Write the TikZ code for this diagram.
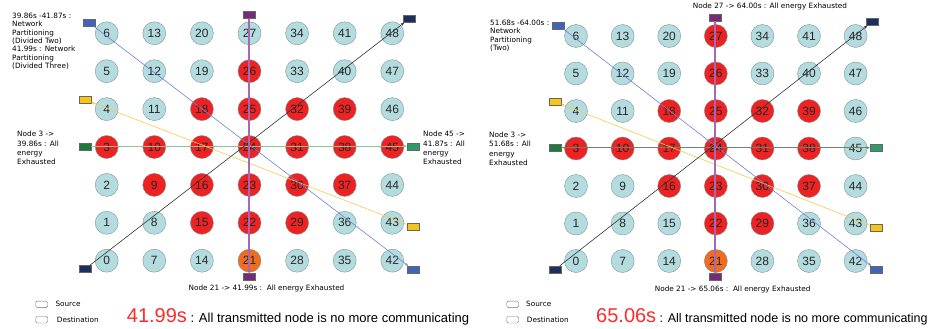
\documentclass[tikz,border=0pt]{standalone}
\usepackage{fontspec}
\setmainfont{Liberation Sans}
\newfontfamily\notefont{DejaVu Sans}
\usetikzlibrary{arrows.meta}

\definecolor{nodeblue}{HTML}{B4DCDF}
\definecolor{deadred}{HTML}{EE2222}
\definecolor{loworange}{HTML}{F06C1E}
\definecolor{ringgray}{HTML}{7C9496}
\definecolor{linblue}{HTML}{7080D8}
\definecolor{boxblue}{HTML}{4064BC}
\definecolor{boxnavy}{HTML}{1C2F5C}
\definecolor{linyellow}{HTML}{F5CB4A}
\definecolor{boxyellow}{HTML}{F5C518}
\definecolor{lingreen}{HTML}{90C490}
\definecolor{boxgreen}{HTML}{1E7A3C}
\definecolor{boxteal}{HTML}{2E9A68}
\definecolor{linpurple}{HTML}{A868B0}
\definecolor{boxpurple}{HTML}{772A7A}
\definecolor{timered}{HTML}{FF2A2A}

\begin{document}
\begin{tikzpicture}[x=1pt, y=-1pt,
    sensor/.style={draw=ringgray, circle, fill=nodeblue, minimum size=23pt, inner sep=0pt, text=black!85, font=\fontsize{12}{12}\selectfont},
    dead/.style={sensor, fill=deadred},
    low/.style={sensor, fill=loworange},
    port/.style={draw=black!60, minimum width=12pt, minimum height=7pt, inner sep=0pt},
    flow/.style={-{Stealth[length=3.5pt, width=3pt]}, line width=0.6pt},
    note/.style={font=\notefont\fontsize{7.3}{8.3}\selectfont, align=left, anchor=north west, inner sep=0pt},
    legend/.style={draw=black!55, rounded corners=1.5pt, minimum width=12pt, minimum height=6.5pt, inner sep=0pt},
    summary/.style={anchor=west, inner sep=0pt, font=\fontsize{13}{13}\selectfont}
]
\useasboundingbox (0,0) rectangle (931,329);

% left panel: 41.99s
\foreach \n in {0,1,2,4,5,6,7,8,11,12,13,14,19,20,27,28,33,34,35,36,40,41,42,43,44,46,47,48}
    \node[sensor] (l\n) at ({106.7+47.6*int(\n/7)},{260.7-37.9*mod(\n,7)}) {\n};
\foreach \n in {3,9,10,15,16,17,18,22,23,24,25,26,29,30,31,32,37,38,39,45}
    \node[dead] (l\n) at ({106.7+47.6*int(\n/7)},{260.7-37.9*mod(\n,7)}) {\n};
\node[low] (l21) at (249.5,260.7) {21};

\node[port, fill=boxblue] (lblueA) at (88.7,22.5) {};
\node[port, fill=boxblue] (lblueB) at (413,269.5) {};
\node[port, fill=boxpurple] (lpurpA) at (249,15) {};
\node[port, fill=boxpurple] (lpurpB) at (249,277) {};
\node[port, fill=boxnavy] (lnavyA) at (85,269) {};
\node[port, fill=boxnavy] (lnavyB) at (409,19) {};
\node[port, fill=boxyellow] (lyelA) at (413,226.7) {};
\node[port, fill=boxyellow] (lyelB) at (85,99.7) {};
\node[port, fill=boxgreen] (lgreenA) at (85,146.3) {};
\node[port, fill=boxteal] (lgreenB) at (413.3,146.3) {};

\draw[flow, lingreen, line width=1.1pt] (lgreenA) -- (lgreenB);
\draw[flow, linyellow] (lyelA) -- (lyelB);
\draw[flow, linblue] (lblueA) -- (lblueB);
\draw[flow, black!80] (lnavyA) -- (lnavyB);
\draw[flow, linpurple, line width=1.1pt] (lpurpA) -- (lpurpB);

\node[note] (lpart) at (12,13) {39.86s -41.87s :\\Network\\Partitioning\\(Divided Two)\\41.99s : Network\\Partitioning\\(Divided Three)};
\node[note, font=\notefont\fontsize{7.3}{9.4}\selectfont] (l3note) at (17,131) {Node 3 ->\\39.86s : All\\energy\\Exhausted};
\node[note, font=\notefont\fontsize{7.3}{9.4}\selectfont] (l45note) at (423,131) {Node 45 ->\\41.87s : All\\energy\\Exhausted};
\node[note, anchor=center] (l21note) at (266.5,288.5) {Node 21 -> 41.99s :\ \ All energy Exhausted};

\node[legend] (lsrc) at (41.7,304.3) {};
\node[legend] (ldst) at (41.7,319.7) {};
\node[note, anchor=west] at (55.3,304.3) {Source};
\node[note, anchor=west] at (56.7,319.7) {Destination};
\node[summary] (lsum) at (126.7,316.5) {{\color{timered}\fontsize{20}{20}\selectfont 41.99s} : All transmitted node is no more communicating};

% right panel: 65.06s
\foreach \n in {0,1,2,4,5,6,7,8,9,11,12,13,14,15,19,20,28,33,34,35,36,40,41,42,43,44,45,46,47,48}
    \node[sensor] (r\n) at ({576+46.6*int(\n/7)},{261-37.5*mod(\n,7)}) {\n};
\foreach \n in {3,10,16,17,18,22,23,24,25,26,27,29,30,31,32,37,38,39}
    \node[dead] (r\n) at ({576+46.6*int(\n/7)},{261-37.5*mod(\n,7)}) {\n};
\node[low] (r21) at (715.8,261) {21};

\node[port, fill=boxblue] (rblueA) at (558.5,25.3) {};
\node[port, fill=boxblue] (rblueB) at (876,269.5) {};
\node[port, fill=boxpurple] (rpurpA) at (715,17.5) {};
\node[port, fill=boxpurple] (rpurpB) at (715,277) {};
\node[port, fill=boxnavy] (rnavyA) at (555,269.5) {};
\node[port, fill=boxnavy] (rnavyB) at (872,22) {};
\node[port, fill=boxyellow] (ryelA) at (876,227.7) {};
\node[port, fill=boxyellow] (ryelB) at (555,101.5) {};
\node[port, fill=boxgreen] (rgreenA) at (555,147.7) {};
\node[port, fill=boxteal] (rgreenB) at (876,147.7) {};

\draw[flow, lingreen!70!black, line width=0.7pt] (rgreenA) -- (rgreenB);
\draw[flow, linyellow] (ryelA) -- (ryelB);
\draw[flow, linblue] (rblueA) -- (rblueB);
\draw[flow, black!80] (rnavyA) -- (rnavyB);
\draw[flow, linpurple, line width=1.1pt] (rpurpA) -- (rpurpB);

\node[note] (rpart) at (490,20) {51.68s -64.00s :\\Network\\Partitioning\\(Two)};
\node[note, font=\notefont\fontsize{7.3}{9.4}\selectfont] (r3note) at (489,131.5) {Node 3 ->\\51.68s : All\\energy\\Exhausted};
\node[note, anchor=center] (r27note) at (770,6.7) {Node 27 -> 64.00s : All energy Exhausted};
\node[note, anchor=center] (r21note) at (732.7,289) {Node 21 -> 65.06s :\ \ All energy Exhausted};

\node[legend] (rsrc) at (512.7,304.3) {};
\node[legend] (rdst) at (512.7,319.7) {};
\node[note, anchor=west] at (526,304.3) {Source};
\node[note, anchor=west] at (526.7,319.7) {Destination};
\node[summary, font=\fontsize{12.5}{12.5}\selectfont] (rsum) at (596,316.5) {{\color{timered}\fontsize{20}{20}\selectfont 65.06s} : All transmitted node is no more communicating};

\end{tikzpicture}
\end{document}
